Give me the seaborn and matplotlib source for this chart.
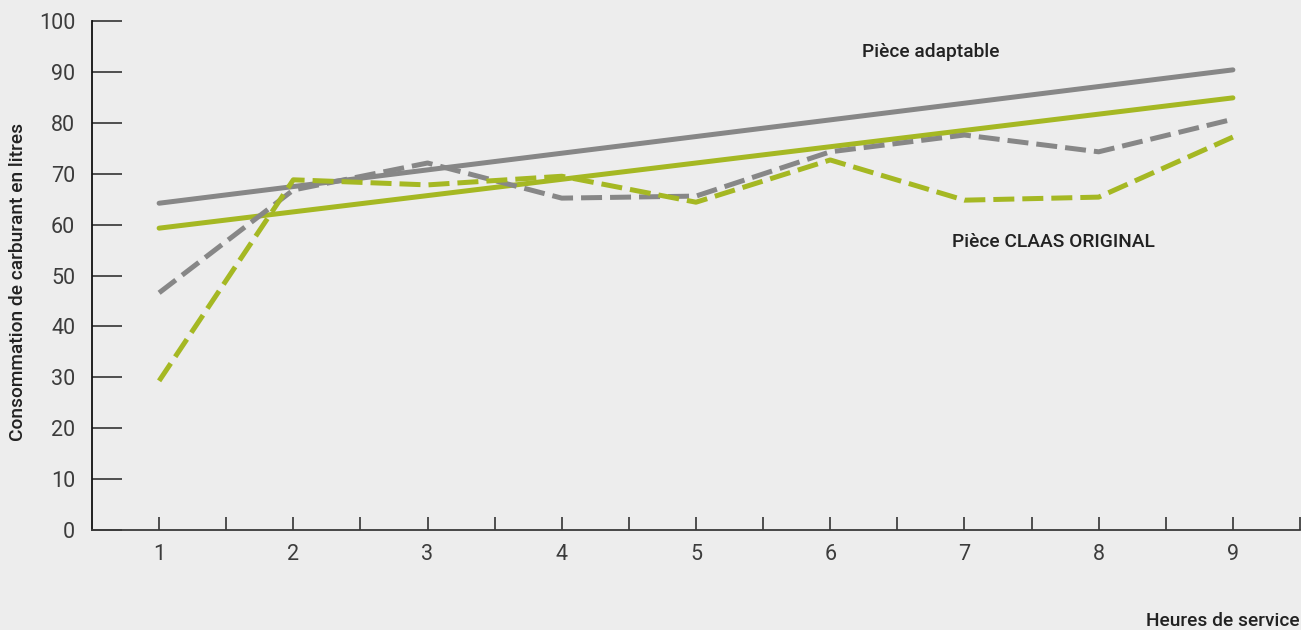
import matplotlib
matplotlib.use("Agg")
import matplotlib.pyplot as plt
import numpy as np
import pandas as pd
import seaborn as sns

# Hours of service (x) and fuel consumption in litres (y)
hours = [1, 2, 3, 4, 5, 6, 7, 8, 9]
adaptable_measured = [46.6, 66.8, 72.1, 65.2, 65.6, 74.3, 77.6, 74.3, 80.7]
claas_measured = [29.3, 68.8, 67.8, 69.5, 64.4, 72.7, 64.8, 65.4, 77.2]

# Trend lines (start and end of the service period)
trend_hours = [1, 9]
adaptable_trend = [64.2, 90.4]
claas_trend = [59.3, 84.9]

y_ticks = [0, 10, 20, 30, 40, 50, 60, 70, 80, 90, 100]

GREY = "#878787"
GREEN = "#a5b823"
BG = "#ededed"
TEXT = "#222222"

sns.set_theme(style="white")
plt.rcParams["font.family"] = ["Roboto", "Liberation Sans", "DejaVu Sans"]

fig = plt.figure(figsize=(13.01, 6.30), dpi=100, facecolor=BG)
ax = fig.add_axes([92 / 1301, 1 - 530 / 630, (1300 - 92) / 1301, (530 - 21) / 630])
ax.set_facecolor(BG)

lw = 3.6
sns.lineplot(x=trend_hours, y=adaptable_trend, ax=ax, color=GREY, lw=lw,
             solid_capstyle="round")
sns.lineplot(x=trend_hours, y=claas_trend, ax=ax, color=GREEN, lw=lw,
             solid_capstyle="round")
sns.lineplot(x=hours, y=adaptable_measured, ax=ax, color=GREY, lw=lw,
             dashes=False, linestyle=(0, (4.2, 1.6)))
sns.lineplot(x=hours, y=claas_measured, ax=ax, color=GREEN, lw=lw,
             dashes=False, linestyle=(0, (4.2, 1.6)))

ax.set_xlim(0.5, 9.5)
ax.set_ylim(0, 100)
ax.set_yticks(y_ticks)
ax.set_xticks(hours)
ax.set_xticks(np.arange(1.5, 10, 1.0), minor=True)

for side in ("top", "right"):
    ax.spines[side].set_visible(False)
ax.spines["left"].set_color("#111111")
ax.spines["left"].set_linewidth(1.3)
ax.spines["bottom"].set_color("#3a3a3a")
ax.spines["bottom"].set_linewidth(1.3)

ax.tick_params(axis="y", direction="in", length=21.5, width=1.2,
               color="#333333", pad=12, labelsize=15.5, labelcolor="#3c3c3c")
ax.tick_params(axis="x", which="both", direction="in", length=9.5, width=1.2,
               color="#333333", pad=10, labelsize=15.5, labelcolor="#3c3c3c")
ax.tick_params(axis="x", which="minor", labelbottom=False)
ax.tick_params(left=True, bottom=True)
ax.tick_params(axis="x", which="minor", bottom=True)

ax.set_xlabel("")
ax.set_ylabel("")
ax.grid(False)

label_style = dict(fontsize=13.8, fontweight="medium", color=TEXT)
fig.text(1300 / 1301, 1 - 621 / 630, "Heures de service", ha="right", va="center",
         **label_style)
fig.text(18 / 1301, 1 - 282 / 630, "Consommation de carburant en litres",
         rotation=90, ha="center", va="center", **label_style)

ax.annotate("Pièce adaptable", xy=(862, 630 - 52), xycoords="figure pixels",
            ha="left", va="center", **label_style)
ax.annotate("Pièce CLAAS ORIGINAL", xy=(952, 630 - 242), xycoords="figure pixels",
            ha="left", va="center", **label_style)

fig.savefig("out.png", dpi=100, facecolor=BG)
